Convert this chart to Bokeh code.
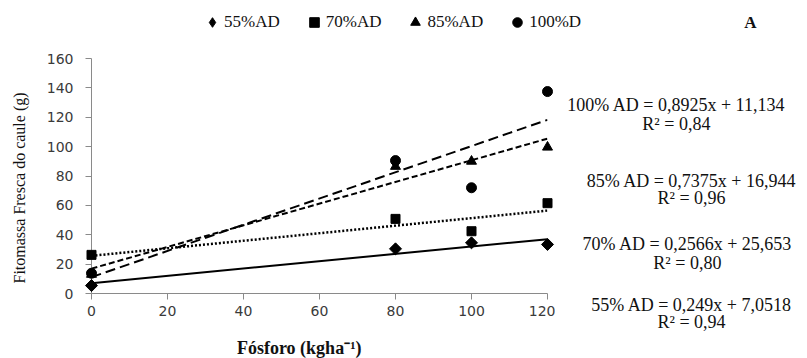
import math
from bokeh.plotting import figure
from bokeh.layouts import column, row
from bokeh.models import Range1d, Label, Legend, LegendItem, FixedTicker
from bokeh.embed import file_html
from bokeh.resources import INLINE

# ---- data ----
phosphorus = [0, 80, 100, 120]
ad55 = [5.4, 30.4, 34.5, 33.4]
ad70 = [26.3, 50.8, 42.4, 61.5]
ad85 = [13.0, 86.5, 90.0, 99.6]
d100 = [13.8, 90.5, 72.0, 137.5]
series_names = ["55%AD", "70%AD", "85%AD", "100%D"]
slopes = [0.249, 0.2566, 0.7375, 0.8925]
intercepts = [7.0518, 25.653, 16.944, 11.134]
eq_texts = ["55% AD = 0,249x + 7,0518", "70% AD = 0,2566x + 25,653",
            "85% AD = 0,7375x + 16,944", "100% AD = 0,8925x + 11,134"]
r2_texts = ["R² = 0,94", "R² = 0,80", "R² = 0,96", "R² = 0,84"]
x_ticks = [0, 20, 40, 60, 80, 100, 120]
y_ticks = [0, 20, 40, 60, 80, 100, 120, 140, 160]
x_range_data = [0, 120]
series_values = [ad55, ad70, ad85, d100]

SERIF = "Liberation Serif"
SANS = "DejaVu Sans"
INK = "#111111"

markers = [dict(marker="square", angle=math.pi / 4, size=8.5),
           dict(marker="square", size=9),
           dict(marker="triangle", size=10),
           dict(marker="circle", size=10)]
key_markers = [dict(marker="diamond")] + [dict(marker=m["marker"]) for m in markers[1:]]


def blank(fig):
    fig.outline_line_color = None
    fig.xgrid.visible = False
    fig.ygrid.visible = False
    fig.frame_align = False


# ---- main plot ----
p = figure(frame_width=456, frame_height=235,
           min_border_left=91, min_border_right=8,
           min_border_top=18, min_border_bottom=65,
           x_range=Range1d(0, 120), y_range=Range1d(0, 160),
           output_backend="svg", toolbar_location=None)
blank(p)

for ax, ticks in ((p.xaxis[0], x_ticks), (p.yaxis[0], y_ticks)):
    ax.ticker = FixedTicker(ticks=ticks)
    ax.axis_line_color = "#8a8a8a"
    ax.major_tick_line_color = "#8a8a8a"
    ax.minor_tick_line_color = None
    ax.major_tick_in = 0
    ax.major_tick_out = 6
    ax.major_label_text_font = SANS
    ax.major_label_text_font_size = "14px"
    ax.major_label_text_color = "#3a3a3a"
    ax.axis_label_text_color = INK
    ax.axis_label_text_font = SERIF
p.yaxis.major_label_standoff = 12
p.xaxis.major_label_standoff = 6
p.yaxis.axis_label = "Fitomassa Fresca do caule (g)" + "\u00a0" * 6
p.yaxis.axis_label_text_font_size = "16px"
p.yaxis.axis_label_text_font_style = "normal"
p.yaxis.axis_label_standoff = 16
p.xaxis.axis_label = "Fósforo  (kgha⁻¹)" + "\u00a0" * 8
p.xaxis.axis_label_text_font_size = "18px"
p.xaxis.axis_label_text_font_style = "bold"
p.xaxis.axis_label_standoff = 19

dashes = ["solid", "2 2", "6 3", "10 5"]
widths = [2, 2.5, 2, 2]
for m, b, d, w in zip(slopes, intercepts, dashes, widths):
    ys = [m * x + b for x in x_range_data]
    p.line(x_range_data, ys, line_color="black", line_width=w, line_dash=d)

for ys, mk in zip(series_values, markers):
    p.scatter(phosphorus, ys, color="black", level="overlay", **mk)

# ---- top strip: legend and panel letter (its y range lies above all data) ----
top = figure(width=807, height=40, x_range=Range1d(-23.95, 188.4), y_range=Range1d(172.2, 199.5),
             min_border=0, x_axis_location=None, y_axis_location=None,
             output_backend="svg", toolbar_location=None)
blank(top)
keys = [top.scatter(phosphorus, ys, color="black", **mk) for ys, mk in zip(series_values, key_markers)]
legend = Legend(items=[LegendItem(label=n, renderers=[r]) for n, r in zip(series_names, keys)],
                orientation="horizontal", location=(200, 6))
legend.label_text_font = SERIF
legend.label_text_font_size = "17px"
legend.label_text_color = INK
legend.glyph_width = 24
legend.glyph_height = 24
legend.label_height = 24
legend.label_standoff = 0
legend.spacing = 22
legend.padding = 0
legend.margin = 0
legend.border_line_color = None
legend.background_fill_alpha = 0
top.add_layout(legend)
top.add_layout(Label(x=173.4, y=184.5, text="A", text_align="center", text_baseline="middle",
                     text_font=SERIF, text_font_size="17px", text_font_style="bold",
                     text_color=INK))

# ---- right strip: regression equations ----
right = figure(width=252, height=318, x_range=Range1d(122.1, 188.4), y_range=Range1d(-44.2, 172.2),
               min_border=0, x_axis_location=None, y_axis_location=None,
               output_backend="svg", toolbar_location=None)
blank(right)
eq_pos = [(157.9, -7.5, -19.7), (156.8, 33.4, 21.1), (157.9, 76.9, 64.7), (153.9, 128.0, 115.7)]
for (cx, ye, yr), et, rt in zip(eq_pos, eq_texts, r2_texts):
    for yy, tt in ((ye, et), (yr, rt)):
        right.add_layout(Label(x=cx, y=yy, text=tt, text_align="center", text_baseline="middle",
                               text_font=SERIF, text_font_size="18px", text_color=INK))

layout = column(top, row(p, right))
open("out.html", "w").write(file_html(layout, INLINE))
